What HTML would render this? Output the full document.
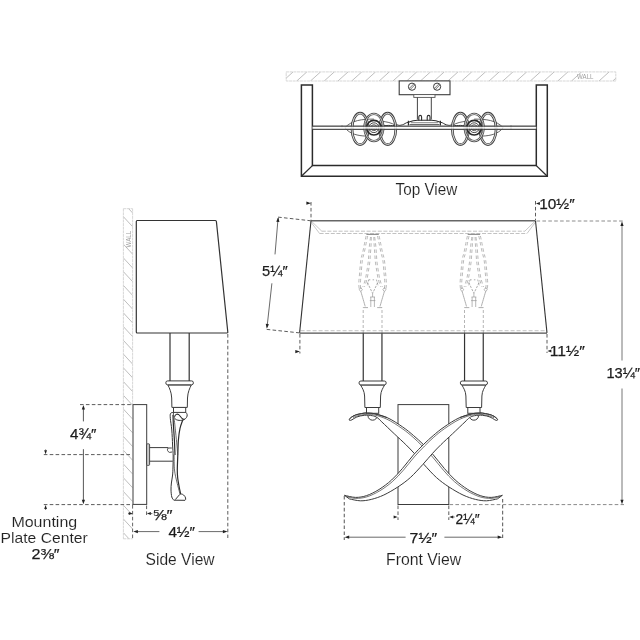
<!DOCTYPE html>
<html lang="en">
<head>
<meta charset="utf-8">
<title>Sconce dimension drawing</title>
<style>
html,body{margin:0;padding:0;background:#fff;}
body{width:640px;height:640px;overflow:hidden;}
svg{display:block;}
svg text{font-family:"Liberation Sans",sans-serif;}
svg text.lbl{stroke:#fff;stroke-width:0.12px;}
svg text.dim{stroke:#1c1c1c;stroke-width:0.25px;}
</style>
</head>
<body>
<svg width="640" height="640" viewBox="0 0 640 640" style="will-change:transform">
<rect x="0" y="0" width="640" height="640" fill="#ffffff"/>
<g id="topview">
<clipPath id="cw1"><rect x="286.2" y="71.9" width="329.59999999999997" height="9.099999999999994"/></clipPath>
<g clip-path="url(#cw1)">
<line x1="269.26" y1="81.00" x2="279.36" y2="71.90" stroke="#adadad" stroke-width="0.8"/>
<line x1="283.00" y1="81.00" x2="293.10" y2="71.90" stroke="#adadad" stroke-width="0.8"/>
<line x1="296.74" y1="81.00" x2="306.84" y2="71.90" stroke="#adadad" stroke-width="0.8"/>
<line x1="310.48" y1="81.00" x2="320.58" y2="71.90" stroke="#adadad" stroke-width="0.8"/>
<line x1="324.22" y1="81.00" x2="334.32" y2="71.90" stroke="#adadad" stroke-width="0.8"/>
<line x1="337.96" y1="81.00" x2="348.06" y2="71.90" stroke="#adadad" stroke-width="0.8"/>
<line x1="351.70" y1="81.00" x2="361.80" y2="71.90" stroke="#adadad" stroke-width="0.8"/>
<line x1="365.44" y1="81.00" x2="375.54" y2="71.90" stroke="#adadad" stroke-width="0.8"/>
<line x1="379.18" y1="81.00" x2="389.28" y2="71.90" stroke="#adadad" stroke-width="0.8"/>
<line x1="392.92" y1="81.00" x2="403.02" y2="71.90" stroke="#adadad" stroke-width="0.8"/>
<line x1="406.66" y1="81.00" x2="416.76" y2="71.90" stroke="#adadad" stroke-width="0.8"/>
<line x1="420.40" y1="81.00" x2="430.50" y2="71.90" stroke="#adadad" stroke-width="0.8"/>
<line x1="434.14" y1="81.00" x2="444.24" y2="71.90" stroke="#adadad" stroke-width="0.8"/>
<line x1="447.88" y1="81.00" x2="457.98" y2="71.90" stroke="#adadad" stroke-width="0.8"/>
<line x1="461.62" y1="81.00" x2="471.72" y2="71.90" stroke="#adadad" stroke-width="0.8"/>
<line x1="475.36" y1="81.00" x2="485.46" y2="71.90" stroke="#adadad" stroke-width="0.8"/>
<line x1="489.10" y1="81.00" x2="499.20" y2="71.90" stroke="#adadad" stroke-width="0.8"/>
<line x1="502.84" y1="81.00" x2="512.94" y2="71.90" stroke="#adadad" stroke-width="0.8"/>
<line x1="516.58" y1="81.00" x2="526.68" y2="71.90" stroke="#adadad" stroke-width="0.8"/>
<line x1="530.32" y1="81.00" x2="540.42" y2="71.90" stroke="#adadad" stroke-width="0.8"/>
<line x1="544.06" y1="81.00" x2="554.16" y2="71.90" stroke="#adadad" stroke-width="0.8"/>
<line x1="557.80" y1="81.00" x2="567.90" y2="71.90" stroke="#adadad" stroke-width="0.8"/>
<line x1="571.54" y1="81.00" x2="581.64" y2="71.90" stroke="#adadad" stroke-width="0.8"/>
<line x1="599.02" y1="81.00" x2="609.12" y2="71.90" stroke="#adadad" stroke-width="0.8"/>
<line x1="612.76" y1="81.00" x2="622.86" y2="71.90" stroke="#adadad" stroke-width="0.8"/>
</g>
<rect x="286.20" y="71.90" width="329.60" height="9.10" rx="0" stroke="#cdcdcd" stroke-width="0.8" fill="none" stroke-dasharray="3 0.6"/>
<text x="577.00" y="78.60" font-size="6.6" fill="#a0a0a0" text-anchor="start" textLength="16.5" lengthAdjust="spacingAndGlyphs">WALL</text>
<path d="M301.4,85 L301.4,176.3 L547.3,176.3 L547.3,85 L536.3,85 L536.3,165.6 L312.4,165.6 L312.4,85 Z" stroke="#2b2b2b" stroke-width="1.5" fill="none" stroke-linejoin="miter"/>
<line x1="301.40" y1="176.30" x2="312.40" y2="165.60" stroke="#2b2b2b" stroke-width="1.3"/>
<line x1="547.30" y1="176.30" x2="536.30" y2="165.60" stroke="#2b2b2b" stroke-width="1.3"/>
<rect x="399.20" y="80.90" width="50.80" height="13.80" rx="0" stroke="#3c3c3c" stroke-width="1.1" fill="#fff"/>
<circle cx="412" cy="86.7" r="3.6" stroke="#3c3c3c" stroke-width="1" fill="#fff"/>
<line x1="409.10" y1="88.60" x2="413.90" y2="83.80" stroke="#3c3c3c" stroke-width="0.7"/>
<line x1="410.10" y1="89.60" x2="414.90" y2="84.80" stroke="#3c3c3c" stroke-width="0.7"/>
<circle cx="437.1" cy="86.7" r="3.6" stroke="#3c3c3c" stroke-width="1" fill="#fff"/>
<line x1="434.20" y1="88.60" x2="439.00" y2="83.80" stroke="#3c3c3c" stroke-width="0.7"/>
<line x1="435.20" y1="89.60" x2="440.00" y2="84.80" stroke="#3c3c3c" stroke-width="0.7"/>
<rect x="413.80" y="94.60" width="21.20" height="2.80" rx="0" stroke="#555" stroke-width="0.9" fill="#fff"/>
<line x1="417.40" y1="97.40" x2="417.40" y2="119.50" stroke="#444" stroke-width="1"/>
<line x1="431.30" y1="97.40" x2="431.30" y2="119.50" stroke="#444" stroke-width="1"/>
<path d="M418.8,120.4 L418.8,116.9 A1.4,1.5 0 0 1 421.59999999999997,116.9 L421.59999999999997,120.4" stroke="#2e2e2e" stroke-width="1.1" fill="none"/>
<path d="M427.20000000000005,120.4 L427.20000000000005,116.9 A1.4,1.5 0 0 1 430.0,116.9 L430.0,120.4" stroke="#2e2e2e" stroke-width="1.1" fill="none"/>
<path d="M408.4,122.2 C411,121.2 414,120.3 417.4,120.3 L431.4,120.3 C435,120.3 438,121.2 440.4,122.2" stroke="#2e2e2e" stroke-width="1.1" fill="none"/>
<path d="M411,122.7 L438,122.7" stroke="#555" stroke-width="0.7" fill="none"/>
<path d="M409.5,124.5 L439.5,124.5" stroke="#444" stroke-width="0.8" fill="none"/>
<path d="M408.4,120.8 L408.4,125.6 M440.4,120.8 L440.4,125.6" stroke="#2e2e2e" stroke-width="1.2" fill="none"/>
<path d="M408.4,122.2 C405.6,122.6 404.4,124.4 402.4,124.8 C400.6,125.2 399.6,125.6 398.4,125.2 C397.2,124.6 396,124.6 394.4,125.4 C392,126 389,125 386,125.6 L381,125.4" stroke="#333" stroke-width="1" fill="none"/>
<path d="M440.4,122.2 C443.2,122.6 444.4,124.4 446.4,124.8 C448.2,125.2 449.2,125.6 450.4,125.2 C451.6,124.6 452.8,124.6 454.4,125.4 C456.8,126 459.8,125 462.8,125.6 L467.8,125.4" stroke="#333" stroke-width="1" fill="none"/>
<line x1="312.40" y1="126.20" x2="536.30" y2="126.20" stroke="#444" stroke-width="0.9"/>
<line x1="312.40" y1="129.30" x2="536.30" y2="129.30" stroke="#444" stroke-width="0.9"/>
<line x1="342.00" y1="125.50" x2="342.00" y2="127.50" stroke="#444" stroke-width="0.8"/>
<line x1="511.00" y1="125.50" x2="511.00" y2="129.30" stroke="#444" stroke-width="0.8"/>
<path d="M344.9,127.7 C351.9,120.2 361.9,119.10000000000001 373.9,119.10000000000001 M344.9,127.7 C349.9,134.2 357.9,135.7 365.9,136.1" stroke="#555" stroke-width="0.9" fill="none"/>
<path d="M395.9,125.5 C391.9,122.7 385.9,121.7 381.9,121.3" stroke="#555" stroke-width="0.9" fill="none"/>
<ellipse cx="360.1" cy="128.9" rx="8.1" ry="15.7" stroke="#444" stroke-width="2.7" fill="none"/>
<ellipse cx="360.1" cy="128.9" rx="8.1" ry="15.7" stroke="#fff" stroke-width="0.8" fill="none"/>
<ellipse cx="387.7" cy="128.9" rx="8.1" ry="15.7" stroke="#444" stroke-width="2.7" fill="none"/>
<ellipse cx="387.7" cy="128.9" rx="8.1" ry="15.7" stroke="#fff" stroke-width="0.8" fill="none"/>
<ellipse cx="373.9" cy="127.5" rx="9.4" ry="13.6" stroke="#4c4c4c" stroke-width="2.4" fill="none"/>
<ellipse cx="373.9" cy="127.5" rx="9.4" ry="13.6" stroke="#fff" stroke-width="0.7" fill="none"/>
<circle cx="373.9" cy="127.7" r="7.3" stroke="#2a2a2a" stroke-width="1.6" fill="none"/>
<circle cx="373.9" cy="127.7" r="4.9" stroke="#4a4a4a" stroke-width="1" fill="none"/>
<circle cx="373.9" cy="127.7" r="3" stroke="#555" stroke-width="0.9" fill="none"/>
<circle cx="373.9" cy="127.7" r="1.4" stroke="#666" stroke-width="0.8" fill="none"/>
<path d="M503.2,127.7 C496.2,120.2 486.2,119.10000000000001 474.2,119.10000000000001 M503.2,127.7 C498.2,134.2 490.2,135.7 482.2,136.1" stroke="#555" stroke-width="0.9" fill="none"/>
<path d="M452.2,125.5 C456.2,122.7 462.2,121.7 466.2,121.3" stroke="#555" stroke-width="0.9" fill="none"/>
<ellipse cx="460.4" cy="128.9" rx="8.1" ry="15.7" stroke="#444" stroke-width="2.7" fill="none"/>
<ellipse cx="460.4" cy="128.9" rx="8.1" ry="15.7" stroke="#fff" stroke-width="0.8" fill="none"/>
<ellipse cx="488.0" cy="128.9" rx="8.1" ry="15.7" stroke="#444" stroke-width="2.7" fill="none"/>
<ellipse cx="488.0" cy="128.9" rx="8.1" ry="15.7" stroke="#fff" stroke-width="0.8" fill="none"/>
<ellipse cx="474.2" cy="127.5" rx="9.4" ry="13.6" stroke="#4c4c4c" stroke-width="2.4" fill="none"/>
<ellipse cx="474.2" cy="127.5" rx="9.4" ry="13.6" stroke="#fff" stroke-width="0.7" fill="none"/>
<circle cx="474.2" cy="127.7" r="7.3" stroke="#2a2a2a" stroke-width="1.6" fill="none"/>
<circle cx="474.2" cy="127.7" r="4.9" stroke="#4a4a4a" stroke-width="1" fill="none"/>
<circle cx="474.2" cy="127.7" r="3" stroke="#555" stroke-width="0.9" fill="none"/>
<circle cx="474.2" cy="127.7" r="1.4" stroke="#666" stroke-width="0.8" fill="none"/>
<rect x="312.4" y="126.65" width="223.9" height="2.2" fill="#fff" opacity="0.85"/>
<line x1="312.40" y1="126.20" x2="536.30" y2="126.20" stroke="#444" stroke-width="0.9"/>
<line x1="312.40" y1="129.30" x2="536.30" y2="129.30" stroke="#444" stroke-width="0.9"/>
<text x="395.60" y="194.70" font-size="16.2" fill="#222" text-anchor="start" textLength="61.7" lengthAdjust="spacingAndGlyphs" class="lbl">Top View</text>
</g>
<g id="frontview">
<rect x="398.00" y="404.60" width="50.80" height="99.90" rx="0" stroke="#3c3c3c" stroke-width="1" fill="#fff"/>
<path d="M368.0,414 L368.0,415.8 A4.6,4.4 0 0 0 377.20000000000005,415.8 L377.20000000000005,414" stroke="#3c3c3c" stroke-width="1" fill="#fff"/>
<path d="M469.29999999999995,414 L469.29999999999995,415.8 A4.6,4.4 0 0 0 478.5,415.8 L478.5,414" stroke="#3c3c3c" stroke-width="1" fill="#fff"/>
<path d="M349.20,419.30 C349.80,418.80 351.18,417.17 352.80,416.30 C354.42,415.43 355.93,414.65 358.90,414.10 C361.87,413.55 365.90,412.42 370.60,413.00 C375.30,413.58 381.75,415.27 387.10,417.60 C392.45,419.93 398.28,424.00 402.70,427.00 C407.12,430.00 410.22,432.73 413.60,435.60 C416.98,438.47 419.70,440.97 423.00,444.20 C426.30,447.43 429.85,450.97 433.40,455.00 C436.95,459.03 440.67,464.23 444.30,468.40 C447.93,472.57 451.28,476.48 455.20,480.00 C459.12,483.52 463.63,486.90 467.80,489.50 C471.97,492.10 476.30,494.28 480.20,495.60 C484.10,496.92 487.50,497.45 491.20,497.40 C494.90,497.35 500.53,495.65 502.40,495.30 L497.40,498.90 C495.58,499.22 490.15,500.72 486.50,500.80 C482.85,500.88 479.42,500.37 475.50,499.40 C471.58,498.43 467.42,497.07 463.00,495.00 C458.58,492.93 453.42,489.90 449.00,487.00 C444.58,484.10 440.67,481.35 436.50,477.60 C432.33,473.85 427.70,468.53 424.00,464.50 C420.30,460.47 417.33,456.72 414.30,453.40 C411.27,450.08 409.13,447.87 405.80,444.60 C402.47,441.33 398.30,437.58 394.30,433.80 C390.30,430.02 384.65,424.60 381.80,421.90 C378.95,419.20 378.78,418.63 377.20,417.60 C375.62,416.57 374.45,416.08 372.30,415.70 C370.15,415.32 366.88,415.08 364.30,415.30 C361.72,415.52 358.85,416.25 356.80,417.00 C354.75,417.75 353.20,419.23 352.00,419.80 C350.80,420.37 350.07,420.48 349.60,420.40 C349.13,420.32 349.27,419.48 349.20,419.30 Z" stroke="#3c3c3c" stroke-width="1" fill="#fff" stroke-linejoin="round"/>
<path d="M352.80,417.60 C353.88,417.23 356.20,415.93 359.30,415.40 C362.40,414.87 366.80,413.77 371.40,414.40 C376.00,415.03 381.77,416.83 386.90,419.20 C392.03,421.57 397.85,425.60 402.20,428.60 C406.55,431.60 409.67,434.30 413.00,437.20 C416.33,440.10 418.93,442.70 422.20,446.00 C425.47,449.30 429.07,452.97 432.60,457.00 C436.13,461.03 439.77,466.10 443.40,470.20 C447.03,474.30 450.47,478.17 454.40,481.60 C458.33,485.03 462.77,488.27 467.00,490.80 C471.23,493.33 475.80,495.53 479.80,496.80 C483.80,498.07 487.57,498.43 491.00,498.40 C494.43,498.37 498.83,496.90 500.40,496.60" stroke="#3c3c3c" stroke-width="0.7" fill="none"/>
<path d="M497.60,419.30 C497.00,418.80 495.62,417.17 494.00,416.30 C492.38,415.43 490.87,414.65 487.90,414.10 C484.93,413.55 480.90,412.42 476.20,413.00 C471.50,413.58 465.05,415.27 459.70,417.60 C454.35,419.93 448.52,424.00 444.10,427.00 C439.68,430.00 436.58,432.73 433.20,435.60 C429.82,438.47 427.10,440.97 423.80,444.20 C420.50,447.43 416.95,450.97 413.40,455.00 C409.85,459.03 406.13,464.23 402.50,468.40 C398.87,472.57 395.52,476.48 391.60,480.00 C387.68,483.52 383.17,486.90 379.00,489.50 C374.83,492.10 370.50,494.28 366.60,495.60 C362.70,496.92 359.30,497.45 355.60,497.40 C351.90,497.35 346.27,495.65 344.40,495.30 L349.40,498.90 C351.22,499.22 356.65,500.72 360.30,500.80 C363.95,500.88 367.38,500.37 371.30,499.40 C375.22,498.43 379.38,497.07 383.80,495.00 C388.22,492.93 393.38,489.90 397.80,487.00 C402.22,484.10 406.13,481.35 410.30,477.60 C414.47,473.85 419.10,468.53 422.80,464.50 C426.50,460.47 429.47,456.72 432.50,453.40 C435.53,450.08 437.67,447.87 441.00,444.60 C444.33,441.33 448.50,437.58 452.50,433.80 C456.50,430.02 462.15,424.60 465.00,421.90 C467.85,419.20 468.02,418.63 469.60,417.60 C471.18,416.57 472.35,416.08 474.50,415.70 C476.65,415.32 479.92,415.08 482.50,415.30 C485.08,415.52 487.95,416.25 490.00,417.00 C492.05,417.75 493.60,419.23 494.80,419.80 C496.00,420.37 496.73,420.48 497.20,420.40 C497.67,420.32 497.53,419.48 497.60,419.30 Z" stroke="#3c3c3c" stroke-width="1" fill="#fff" stroke-linejoin="round"/>
<path d="M494.00,417.60 C492.92,417.23 490.60,415.93 487.50,415.40 C484.40,414.87 480.00,413.77 475.40,414.40 C470.80,415.03 465.03,416.83 459.90,419.20 C454.77,421.57 448.95,425.60 444.60,428.60 C440.25,431.60 437.13,434.30 433.80,437.20 C430.47,440.10 427.87,442.70 424.60,446.00 C421.33,449.30 417.73,452.97 414.20,457.00 C410.67,461.03 407.03,466.10 403.40,470.20 C399.77,474.30 396.33,478.17 392.40,481.60 C388.47,485.03 384.03,488.27 379.80,490.80 C375.57,493.33 371.00,495.53 367.00,496.80 C363.00,498.07 359.23,498.43 355.80,498.40 C352.37,498.37 347.97,496.90 346.40,496.60" stroke="#3c3c3c" stroke-width="0.7" fill="none"/>
<rect x="366.50" y="407.50" width="12.20" height="5.80" rx="0" stroke="#3c3c3c" stroke-width="1" fill="#fff"/>
<path d="M360.6,385 C362.20000000000005,388 364.40000000000003,391 364.6,396 L364.90000000000003,407.5 L380.3,407.5 L380.6,396 C380.8,391 383.0,388 384.6,385 Z" stroke="#3c3c3c" stroke-width="1" fill="#fff"/>
<rect x="359.00" y="381.00" width="27.20" height="3.90" rx="1.9" stroke="#3c3c3c" stroke-width="1" fill="#fff"/>
<line x1="363.25" y1="333.00" x2="363.25" y2="381.00" stroke="#333" stroke-width="1.2"/>
<line x1="381.95" y1="333.00" x2="381.95" y2="381.00" stroke="#333" stroke-width="1.2"/>
<rect x="467.80" y="407.50" width="12.20" height="5.80" rx="0" stroke="#3c3c3c" stroke-width="1" fill="#fff"/>
<path d="M461.9,385 C463.5,388 465.7,391 465.9,396 L466.2,407.5 L481.59999999999997,407.5 L481.9,396 C482.09999999999997,391 484.29999999999995,388 485.9,385 Z" stroke="#3c3c3c" stroke-width="1" fill="#fff"/>
<rect x="460.30" y="381.00" width="27.20" height="3.90" rx="1.9" stroke="#3c3c3c" stroke-width="1" fill="#fff"/>
<line x1="464.55" y1="333.00" x2="464.55" y2="381.00" stroke="#333" stroke-width="1.2"/>
<line x1="483.25" y1="333.00" x2="483.25" y2="381.00" stroke="#333" stroke-width="1.2"/>
<path d="M497.60,419.30 C497.00,418.80 495.62,417.17 494.00,416.30 C492.38,415.43 490.87,414.65 487.90,414.10 C484.93,413.55 480.90,412.42 476.20,413.00 C471.50,413.58 462.45,416.83 459.70,417.60" stroke="#3c3c3c" stroke-width="1" fill="none"/>
<path d="M349.20,419.30 C349.80,418.80 351.18,417.17 352.80,416.30 C354.42,415.43 355.93,414.65 358.90,414.10 C361.87,413.55 365.90,412.42 370.60,413.00 C375.30,413.58 384.35,416.83 387.10,417.60" stroke="#3c3c3c" stroke-width="1" fill="none"/>
<path d="M367.70,236.00 C367.48,237.00 366.95,239.33 366.40,242.00 C365.85,244.67 365.07,249.00 364.40,252.00 C363.73,255.00 362.92,256.67 362.40,260.00 C361.88,263.33 361.63,268.17 361.30,272.00 C360.97,275.83 360.48,280.17 360.40,283.00 C360.32,285.83 360.73,288.00 360.80,289.00" stroke="#9c9c9c" stroke-width="0.7" fill="none" stroke-dasharray="3.6 2.6"/>
<path d="M377.50,236.00 C377.72,237.00 378.25,239.33 378.80,242.00 C379.35,244.67 380.13,249.00 380.80,252.00 C381.47,255.00 382.28,256.67 382.80,260.00 C383.32,263.33 383.57,268.17 383.90,272.00 C384.23,275.83 384.72,280.17 384.80,283.00 C384.88,285.83 384.47,288.00 384.40,289.00" stroke="#9c9c9c" stroke-width="0.7" fill="none" stroke-dasharray="3.6 2.6"/>
<path d="M366.10,236.00 C365.88,237.00 365.35,239.33 364.80,242.00 C364.25,244.67 363.47,249.00 362.80,252.00 C362.13,255.00 361.32,256.67 360.80,260.00 C360.28,263.33 360.03,268.17 359.70,272.00 C359.37,275.83 358.88,280.17 358.80,283.00 C358.72,285.83 359.13,288.00 359.20,289.00" stroke="#9c9c9c" stroke-width="0.7" fill="none" stroke-dasharray="3.6 2.6"/>
<path d="M379.10,236.00 C379.32,237.00 379.85,239.33 380.40,242.00 C380.95,244.67 381.73,249.00 382.40,252.00 C383.07,255.00 383.88,256.67 384.40,260.00 C384.92,263.33 385.17,268.17 385.50,272.00 C385.83,275.83 386.32,280.17 386.40,283.00 C386.48,285.83 386.07,288.00 386.00,289.00" stroke="#9c9c9c" stroke-width="0.7" fill="none" stroke-dasharray="3.6 2.6"/>
<path d="M371.48,237.00 C371.40,238.50 371.18,243.17 371.00,246.00 C370.82,248.83 370.60,251.33 370.40,254.00 C370.20,256.67 370.15,259.00 369.80,262.00 C369.45,265.00 368.80,269.00 368.30,272.00 C367.80,275.00 367.45,277.50 366.80,280.00 C366.15,282.50 364.80,285.83 364.40,287.00" stroke="#9c9c9c" stroke-width="0.7" fill="none" stroke-dasharray="3.6 2.6"/>
<path d="M373.72,237.00 C373.80,238.50 374.02,243.17 374.20,246.00 C374.38,248.83 374.60,251.33 374.80,254.00 C375.00,256.67 375.05,259.00 375.40,262.00 C375.75,265.00 376.40,269.00 376.90,272.00 C377.40,275.00 377.75,277.50 378.40,280.00 C379.05,282.50 380.40,285.83 380.80,287.00" stroke="#9c9c9c" stroke-width="0.7" fill="none" stroke-dasharray="3.6 2.6"/>
<path d="M370.52,237.00 C370.33,238.50 369.69,243.17 369.40,246.00 C369.11,248.83 369.00,251.33 368.80,254.00 C368.60,256.67 368.55,259.00 368.20,262.00 C367.85,265.00 367.20,269.00 366.70,272.00 C366.20,275.00 365.85,277.50 365.20,280.00 C364.55,282.50 363.20,285.83 362.80,287.00" stroke="#9c9c9c" stroke-width="0.7" fill="none" stroke-dasharray="3.6 2.6"/>
<path d="M374.68,237.00 C374.87,238.50 375.51,243.17 375.80,246.00 C376.09,248.83 376.20,251.33 376.40,254.00 C376.60,256.67 376.65,259.00 377.00,262.00 C377.35,265.00 378.00,269.00 378.50,272.00 C379.00,275.00 379.35,277.50 380.00,280.00 C380.65,282.50 382.00,285.83 382.40,287.00" stroke="#9c9c9c" stroke-width="0.7" fill="none" stroke-dasharray="3.6 2.6"/>
<path d="M360.8,287.6 L362.3,289.6 L360.8,291.8 L359.3,289.6 Z" stroke="#8a8a8a" stroke-width="0.6" fill="none"/>
<path d="M384.40000000000003,287.6 L385.90000000000003,289.6 L384.40000000000003,291.8 L382.90000000000003,289.6 Z" stroke="#8a8a8a" stroke-width="0.6" fill="none"/>
<path d="M361.00,292.00 C361.37,293.25 362.50,297.10 363.20,299.50 C363.90,301.90 364.87,305.25 365.20,306.40" stroke="#9a9a9a" stroke-width="0.8" fill="none"/>
<path d="M384.20,292.00 C383.83,293.25 382.70,297.10 382.00,299.50 C381.30,301.90 380.33,305.25 380.00,306.40" stroke="#9a9a9a" stroke-width="0.8" fill="none"/>
<path d="M368.8,279.6 L367.0,286 M376.40000000000003,279.6 L378.20000000000005,286" stroke="#8c8c8c" stroke-width="0.7" fill="none" stroke-dasharray="2 1.2"/>
<path d="M367.40000000000003,282.5 L372.6,293.4 L377.8,282.5" stroke="#8c8c8c" stroke-width="0.7" fill="none" stroke-dasharray="2.4 1.2"/>
<path d="M368.8,279.8 L376.40000000000003,279.8" stroke="#8c8c8c" stroke-width="0.7" fill="none" stroke-dasharray="1.5 2.3"/>
<path d="M372.6,293.4 L372.6,297 M370.20000000000005,297 L375.0,297 M369.8,300.6 L375.40000000000003,300.6 M370.8,297 L370.8,307 M374.40000000000003,297 L374.40000000000003,307" stroke="#999" stroke-width="0.7" fill="none"/>
<path d="M363.20000000000005,333 L363.20000000000005,307.6" stroke="#a2a2a2" stroke-width="0.8" fill="none" stroke-dasharray="3 2"/>
<path d="M382.0,333 L382.0,307.6" stroke="#a2a2a2" stroke-width="0.8" fill="none" stroke-dasharray="3 2"/>
<path d="M363.20000000000005,307.6 L368.0,307.6 M377.20000000000005,307.6 L382.0,307.6" stroke="#999" stroke-width="0.8" fill="none"/>
<line x1="366.40" y1="234.30" x2="378.80" y2="234.30" stroke="#777" stroke-width="1"/>
<path d="M469.00,236.00 C468.78,237.00 468.25,239.33 467.70,242.00 C467.15,244.67 466.37,249.00 465.70,252.00 C465.03,255.00 464.22,256.67 463.70,260.00 C463.18,263.33 462.93,268.17 462.60,272.00 C462.27,275.83 461.78,280.17 461.70,283.00 C461.62,285.83 462.03,288.00 462.10,289.00" stroke="#9c9c9c" stroke-width="0.7" fill="none" stroke-dasharray="3.6 2.6"/>
<path d="M478.80,236.00 C479.02,237.00 479.55,239.33 480.10,242.00 C480.65,244.67 481.43,249.00 482.10,252.00 C482.77,255.00 483.58,256.67 484.10,260.00 C484.62,263.33 484.87,268.17 485.20,272.00 C485.53,275.83 486.02,280.17 486.10,283.00 C486.18,285.83 485.77,288.00 485.70,289.00" stroke="#9c9c9c" stroke-width="0.7" fill="none" stroke-dasharray="3.6 2.6"/>
<path d="M467.40,236.00 C467.18,237.00 466.65,239.33 466.10,242.00 C465.55,244.67 464.77,249.00 464.10,252.00 C463.43,255.00 462.62,256.67 462.10,260.00 C461.58,263.33 461.33,268.17 461.00,272.00 C460.67,275.83 460.18,280.17 460.10,283.00 C460.02,285.83 460.43,288.00 460.50,289.00" stroke="#9c9c9c" stroke-width="0.7" fill="none" stroke-dasharray="3.6 2.6"/>
<path d="M480.40,236.00 C480.62,237.00 481.15,239.33 481.70,242.00 C482.25,244.67 483.03,249.00 483.70,252.00 C484.37,255.00 485.18,256.67 485.70,260.00 C486.22,263.33 486.47,268.17 486.80,272.00 C487.13,275.83 487.62,280.17 487.70,283.00 C487.78,285.83 487.37,288.00 487.30,289.00" stroke="#9c9c9c" stroke-width="0.7" fill="none" stroke-dasharray="3.6 2.6"/>
<path d="M472.78,237.00 C472.70,238.50 472.48,243.17 472.30,246.00 C472.12,248.83 471.90,251.33 471.70,254.00 C471.50,256.67 471.45,259.00 471.10,262.00 C470.75,265.00 470.10,269.00 469.60,272.00 C469.10,275.00 468.75,277.50 468.10,280.00 C467.45,282.50 466.10,285.83 465.70,287.00" stroke="#9c9c9c" stroke-width="0.7" fill="none" stroke-dasharray="3.6 2.6"/>
<path d="M475.02,237.00 C475.10,238.50 475.32,243.17 475.50,246.00 C475.68,248.83 475.90,251.33 476.10,254.00 C476.30,256.67 476.35,259.00 476.70,262.00 C477.05,265.00 477.70,269.00 478.20,272.00 C478.70,275.00 479.05,277.50 479.70,280.00 C480.35,282.50 481.70,285.83 482.10,287.00" stroke="#9c9c9c" stroke-width="0.7" fill="none" stroke-dasharray="3.6 2.6"/>
<path d="M471.82,237.00 C471.63,238.50 470.99,243.17 470.70,246.00 C470.41,248.83 470.30,251.33 470.10,254.00 C469.90,256.67 469.85,259.00 469.50,262.00 C469.15,265.00 468.50,269.00 468.00,272.00 C467.50,275.00 467.15,277.50 466.50,280.00 C465.85,282.50 464.50,285.83 464.10,287.00" stroke="#9c9c9c" stroke-width="0.7" fill="none" stroke-dasharray="3.6 2.6"/>
<path d="M475.98,237.00 C476.17,238.50 476.81,243.17 477.10,246.00 C477.39,248.83 477.50,251.33 477.70,254.00 C477.90,256.67 477.95,259.00 478.30,262.00 C478.65,265.00 479.30,269.00 479.80,272.00 C480.30,275.00 480.65,277.50 481.30,280.00 C481.95,282.50 483.30,285.83 483.70,287.00" stroke="#9c9c9c" stroke-width="0.7" fill="none" stroke-dasharray="3.6 2.6"/>
<path d="M462.09999999999997,287.6 L463.59999999999997,289.6 L462.09999999999997,291.8 L460.59999999999997,289.6 Z" stroke="#8a8a8a" stroke-width="0.6" fill="none"/>
<path d="M485.7,287.6 L487.2,289.6 L485.7,291.8 L484.2,289.6 Z" stroke="#8a8a8a" stroke-width="0.6" fill="none"/>
<path d="M462.30,292.00 C462.67,293.25 463.80,297.10 464.50,299.50 C465.20,301.90 466.17,305.25 466.50,306.40" stroke="#9a9a9a" stroke-width="0.8" fill="none"/>
<path d="M485.50,292.00 C485.13,293.25 484.00,297.10 483.30,299.50 C482.60,301.90 481.63,305.25 481.30,306.40" stroke="#9a9a9a" stroke-width="0.8" fill="none"/>
<path d="M470.09999999999997,279.6 L468.29999999999995,286 M477.7,279.6 L479.5,286" stroke="#8c8c8c" stroke-width="0.7" fill="none" stroke-dasharray="2 1.2"/>
<path d="M468.7,282.5 L473.9,293.4 L479.09999999999997,282.5" stroke="#8c8c8c" stroke-width="0.7" fill="none" stroke-dasharray="2.4 1.2"/>
<path d="M470.09999999999997,279.8 L477.7,279.8" stroke="#8c8c8c" stroke-width="0.7" fill="none" stroke-dasharray="1.5 2.3"/>
<path d="M473.9,293.4 L473.9,297 M471.5,297 L476.29999999999995,297 M471.09999999999997,300.6 L476.7,300.6 M472.09999999999997,297 L472.09999999999997,307 M475.7,297 L475.7,307" stroke="#999" stroke-width="0.7" fill="none"/>
<path d="M464.5,333 L464.5,307.6" stroke="#a2a2a2" stroke-width="0.8" fill="none" stroke-dasharray="3 2"/>
<path d="M483.29999999999995,333 L483.29999999999995,307.6" stroke="#a2a2a2" stroke-width="0.8" fill="none" stroke-dasharray="3 2"/>
<path d="M464.5,307.6 L469.29999999999995,307.6 M478.5,307.6 L483.29999999999995,307.6" stroke="#999" stroke-width="0.8" fill="none"/>
<line x1="467.70" y1="234.30" x2="480.10" y2="234.30" stroke="#777" stroke-width="1"/>
<path d="M311.6,221.4 L321.8,231.2" stroke="#b0b0b0" stroke-width="0.7" fill="none"/>
<path d="M311.2,222.4 L319.6,233.5" stroke="#b0b0b0" stroke-width="0.7" fill="none"/>
<path d="M534.9,221.4 L524.8,231.2" stroke="#b0b0b0" stroke-width="0.7" fill="none"/>
<path d="M535.3,222.4 L527,233.5" stroke="#b0b0b0" stroke-width="0.7" fill="none"/>
<line x1="321.80" y1="231.20" x2="524.80" y2="231.20" stroke="#a8a8a8" stroke-width="0.7" stroke-dasharray="4 1.6"/>
<line x1="319.60" y1="233.50" x2="527.00" y2="233.50" stroke="#a8a8a8" stroke-width="0.7" stroke-dasharray="4 1.6"/>
<line x1="300.60" y1="330.70" x2="546.00" y2="330.70" stroke="#a8a8a8" stroke-width="0.7" stroke-dasharray="4 2"/>
<line x1="311.00" y1="220.80" x2="535.50" y2="220.80" stroke="#666" stroke-width="1.5"/>
<line x1="299.60" y1="333.10" x2="547.00" y2="333.10" stroke="#505050" stroke-width="1.4"/>
<line x1="311.00" y1="220.80" x2="299.60" y2="332.90" stroke="#333" stroke-width="1.1"/>
<line x1="535.50" y1="220.80" x2="547.00" y2="332.90" stroke="#333" stroke-width="1.1"/>
<line x1="311.00" y1="220.80" x2="277.00" y2="217.00" stroke="#5c5c5c" stroke-width="1" stroke-dasharray="3.6 2.3"/>
<line x1="299.60" y1="332.90" x2="265.00" y2="329.20" stroke="#5c5c5c" stroke-width="1" stroke-dasharray="3.6 2.3"/>
<line x1="278.10" y1="218.00" x2="275.00" y2="254.40" stroke="#444" stroke-width="0.8"/>
<line x1="271.90" y1="283.30" x2="267.00" y2="327.40" stroke="#444" stroke-width="0.8"/>
<polygon points="278.25,217.20 279.44,221.92 276.26,221.64" fill="#222"/>
<polygon points="266.80,328.60 265.73,323.85 268.91,324.21" fill="#222"/>
<text x="262.00" y="276.30" font-size="15.5" fill="#1c1c1c" text-anchor="start" textLength="25.6" lengthAdjust="spacingAndGlyphs" class="dim">5¼″</text>
<line x1="311.00" y1="202.00" x2="311.00" y2="220.00" stroke="#5c5c5c" stroke-width="1" stroke-dasharray="3.6 2.3"/>
<polygon points="311.00,203.20 306.40,204.80 306.40,201.60" fill="#222"/>
<line x1="299.90" y1="334.00" x2="299.90" y2="353.50" stroke="#5c5c5c" stroke-width="1" stroke-dasharray="3.6 2.3"/>
<polygon points="299.90,351.60 295.30,353.20 295.30,350.00" fill="#222"/>
<line x1="535.50" y1="201.00" x2="535.50" y2="220.00" stroke="#5c5c5c" stroke-width="1" stroke-dasharray="3.6 2.3"/>
<polygon points="535.90,203.50 539.90,202.00 539.90,205.00" fill="#222"/>
<text x="539.20" y="208.80" font-size="15.5" fill="#1c1c1c" text-anchor="start" textLength="35.4" lengthAdjust="spacingAndGlyphs" class="dim">10½″</text>
<line x1="547.00" y1="334.00" x2="547.00" y2="353.00" stroke="#5c5c5c" stroke-width="1" stroke-dasharray="3.6 2.3"/>
<polygon points="547.40,351.00 551.40,349.50 551.40,352.50" fill="#222"/>
<text x="549.80" y="356.10" font-size="15.5" fill="#1c1c1c" text-anchor="start" textLength="35.0" lengthAdjust="spacingAndGlyphs" class="dim">11½″</text>
<line x1="536.50" y1="221.00" x2="624.00" y2="221.00" stroke="#8c8c8c" stroke-width="1" stroke-dasharray="3.6 2.3"/>
<line x1="449.50" y1="504.60" x2="624.00" y2="504.60" stroke="#8a8a8a" stroke-width="1" stroke-dasharray="3.6 2.3"/>
<line x1="622.00" y1="224.00" x2="622.00" y2="360.50" stroke="#666" stroke-width="0.9"/>
<line x1="622.00" y1="388.50" x2="622.00" y2="502.00" stroke="#666" stroke-width="0.9"/>
<polygon points="622.00,221.30 623.60,225.90 620.40,225.90" fill="#222"/>
<polygon points="622.00,504.30 620.40,499.70 623.60,499.70" fill="#222"/>
<text x="606.40" y="378.20" font-size="15.5" fill="#1c1c1c" text-anchor="start" textLength="33.6" lengthAdjust="spacingAndGlyphs" class="dim">13¼″</text>
<line x1="344.30" y1="496.00" x2="344.30" y2="540.00" stroke="#707070" stroke-width="1.2" stroke-dasharray="3.6 2.3"/>
<line x1="502.60" y1="499.00" x2="502.60" y2="540.00" stroke="#707070" stroke-width="1.2" stroke-dasharray="3.6 2.3"/>
<line x1="347.00" y1="537.20" x2="405.60" y2="537.20" stroke="#444" stroke-width="0.8"/>
<line x1="444.40" y1="537.20" x2="500.00" y2="537.20" stroke="#444" stroke-width="0.8"/>
<polygon points="344.60,537.20 349.20,535.60 349.20,538.80" fill="#222"/>
<polygon points="502.30,537.20 497.70,538.80 497.70,535.60" fill="#222"/>
<text x="409.60" y="543.10" font-size="15.5" fill="#1c1c1c" text-anchor="start" textLength="27.6" lengthAdjust="spacingAndGlyphs" class="dim">7½″</text>
<line x1="398.00" y1="505.50" x2="398.00" y2="520.00" stroke="#5c5c5c" stroke-width="1" stroke-dasharray="3.6 2.3"/>
<line x1="448.80" y1="505.50" x2="448.80" y2="520.00" stroke="#5c5c5c" stroke-width="1" stroke-dasharray="3.6 2.3"/>
<polygon points="397.60,517.00 393.60,518.50 393.60,515.50" fill="#222"/>
<polygon points="449.20,517.00 453.20,515.50 453.20,518.50" fill="#222"/>
<line x1="452.50" y1="517.00" x2="454.60" y2="517.00" stroke="#444" stroke-width="0.8"/>
<text x="455.60" y="523.50" font-size="15.5" fill="#1c1c1c" text-anchor="start" textLength="24.0" lengthAdjust="spacingAndGlyphs" class="dim">2¼″</text>
<text x="386.00" y="565.10" font-size="16.2" fill="#222" text-anchor="start" textLength="75.3" lengthAdjust="spacingAndGlyphs" class="lbl">Front View</text>
</g>
<g id="sideview">
<clipPath id="cw2"><rect x="123.4" y="208.7" width="9.199999999999989" height="330.09999999999997"/></clipPath>
<g clip-path="url(#cw2)">
<line x1="123.40" y1="189.22" x2="132.80" y2="199.42" stroke="#adadad" stroke-width="0.8"/>
<line x1="123.40" y1="202.96" x2="132.80" y2="213.16" stroke="#adadad" stroke-width="0.8"/>
<line x1="123.40" y1="216.70" x2="132.80" y2="226.90" stroke="#adadad" stroke-width="0.8"/>
<line x1="123.40" y1="244.18" x2="132.80" y2="254.38" stroke="#adadad" stroke-width="0.8"/>
<line x1="123.40" y1="257.92" x2="132.80" y2="268.12" stroke="#adadad" stroke-width="0.8"/>
<line x1="123.40" y1="271.66" x2="132.80" y2="281.86" stroke="#adadad" stroke-width="0.8"/>
<line x1="123.40" y1="285.40" x2="132.80" y2="295.60" stroke="#adadad" stroke-width="0.8"/>
<line x1="123.40" y1="299.14" x2="132.80" y2="309.34" stroke="#adadad" stroke-width="0.8"/>
<line x1="123.40" y1="312.88" x2="132.80" y2="323.08" stroke="#adadad" stroke-width="0.8"/>
<line x1="123.40" y1="326.62" x2="132.80" y2="336.82" stroke="#adadad" stroke-width="0.8"/>
<line x1="123.40" y1="340.36" x2="132.80" y2="350.56" stroke="#adadad" stroke-width="0.8"/>
<line x1="123.40" y1="354.10" x2="132.80" y2="364.30" stroke="#adadad" stroke-width="0.8"/>
<line x1="123.40" y1="367.84" x2="132.80" y2="378.04" stroke="#adadad" stroke-width="0.8"/>
<line x1="123.40" y1="381.58" x2="132.80" y2="391.78" stroke="#adadad" stroke-width="0.8"/>
<line x1="123.40" y1="395.32" x2="132.80" y2="405.52" stroke="#adadad" stroke-width="0.8"/>
<line x1="123.40" y1="409.06" x2="132.80" y2="419.26" stroke="#adadad" stroke-width="0.8"/>
<line x1="123.40" y1="422.80" x2="132.80" y2="433.00" stroke="#adadad" stroke-width="0.8"/>
<line x1="123.40" y1="436.54" x2="132.80" y2="446.74" stroke="#adadad" stroke-width="0.8"/>
<line x1="123.40" y1="450.28" x2="132.80" y2="460.48" stroke="#adadad" stroke-width="0.8"/>
<line x1="123.40" y1="464.02" x2="132.80" y2="474.22" stroke="#adadad" stroke-width="0.8"/>
<line x1="123.40" y1="477.76" x2="132.80" y2="487.96" stroke="#adadad" stroke-width="0.8"/>
<line x1="123.40" y1="491.50" x2="132.80" y2="501.70" stroke="#adadad" stroke-width="0.8"/>
<line x1="123.40" y1="505.24" x2="132.80" y2="515.44" stroke="#adadad" stroke-width="0.8"/>
<line x1="123.40" y1="518.98" x2="132.80" y2="529.18" stroke="#adadad" stroke-width="0.8"/>
<line x1="123.40" y1="532.72" x2="132.80" y2="542.92" stroke="#adadad" stroke-width="0.8"/>
</g>
<line x1="123.40" y1="208.70" x2="123.40" y2="538.80" stroke="#cdcdcd" stroke-width="0.8" stroke-dasharray="3 0.6"/>
<line x1="123.40" y1="208.70" x2="132.60" y2="208.70" stroke="#cdcdcd" stroke-width="0.8" stroke-dasharray="3 0.6"/>
<line x1="123.40" y1="538.80" x2="132.60" y2="538.80" stroke="#cdcdcd" stroke-width="0.8" stroke-dasharray="3 0.6"/>
<line x1="132.60" y1="208.70" x2="132.60" y2="404.00" stroke="#cdcdcd" stroke-width="0.8" stroke-dasharray="3 0.6"/>
<line x1="132.60" y1="505.00" x2="132.60" y2="538.80" stroke="#666" stroke-width="1" stroke-dasharray="3.6 2.3"/>
<text x="0" y="0" font-size="6.6" fill="#a0a0a0" textLength="16.5" lengthAdjust="spacingAndGlyphs" transform="translate(131,247.4) rotate(-90)">WALL</text>
<path d="M137.2,220.5 L215.4,220.5 Q216.3,220.5 216.4,221.5 L227.8,332 Q227.9,333 227,333 L137.2,333 Q136.3,333 136.3,332 L136.3,221.5 Q136.3,220.5 137.2,220.5 Z" stroke="#333" stroke-width="1.2" fill="#fff"/>
<rect x="133.00" y="404.60" width="13.70" height="99.80" rx="0" stroke="#3c3c3c" stroke-width="1" fill="#fff"/>
<rect x="146.60" y="443.80" width="3.00" height="21.60" rx="1" stroke="#3c3c3c" stroke-width="0.9" fill="#c8c8c8"/>
<line x1="149.60" y1="447.60" x2="168.20" y2="447.60" stroke="#3c3c3c" stroke-width="1"/>
<line x1="149.60" y1="461.20" x2="172.80" y2="461.20" stroke="#3c3c3c" stroke-width="1"/>
<path d="M173.40,412.40 C172.93,412.57 171.12,412.42 170.60,413.40 C170.08,414.38 170.10,415.53 170.30,418.30 C170.50,421.07 171.42,425.55 171.80,430.00 C172.18,434.45 172.37,440.67 172.60,445.00 C172.83,449.33 173.13,452.33 173.20,456.00 C173.27,459.67 173.10,463.83 173.00,467.00 C172.90,470.17 172.87,472.33 172.60,475.00 C172.33,477.67 171.67,480.50 171.40,483.00 C171.13,485.50 170.93,487.67 171.00,490.00 C171.07,492.33 171.33,495.30 171.80,497.00 C172.27,498.70 173.47,499.67 173.80,500.20 L185,500.3 L185.5,498 L183.9,495.2 L180.6,494 L180.60,494.00 C180.37,492.83 179.68,489.67 179.20,487.00 C178.72,484.33 178.02,480.83 177.70,478.00 C177.38,475.17 177.28,473.83 177.30,470.00 C177.32,466.17 177.62,460.00 177.80,455.00 C177.98,450.00 178.03,444.43 178.40,440.00 C178.77,435.57 179.25,431.80 180.00,428.40 C180.75,425.00 182.42,421.07 182.90,419.60 Z" stroke="none" stroke-width="0" fill="#fff"/>
<path d="M173.40,412.40 C172.93,412.57 171.12,412.42 170.60,413.40 C170.08,414.38 170.10,415.53 170.30,418.30 C170.50,421.07 171.42,425.55 171.80,430.00 C172.18,434.45 172.37,440.67 172.60,445.00 C172.83,449.33 173.13,452.33 173.20,456.00 C173.27,459.67 173.10,463.83 173.00,467.00 C172.90,470.17 172.87,472.33 172.60,475.00 C172.33,477.67 171.67,480.50 171.40,483.00 C171.13,485.50 170.93,487.67 171.00,490.00 C171.07,492.33 171.33,495.30 171.80,497.00 C172.27,498.70 173.47,499.67 173.80,500.20" stroke="#333" stroke-width="1" fill="none"/>
<path d="M182.90,419.60 C182.42,421.07 180.75,425.00 180.00,428.40 C179.25,431.80 178.77,435.57 178.40,440.00 C178.03,444.43 177.98,450.00 177.80,455.00 C177.62,460.00 177.32,466.17 177.30,470.00 C177.28,473.83 177.38,475.17 177.70,478.00 C178.02,480.83 178.72,484.33 179.20,487.00 C179.68,489.67 180.37,492.83 180.60,494.00" stroke="#2a2a2a" stroke-width="1.2" fill="none"/>
<path d="M173.00,415.00 C173.07,416.67 173.17,420.83 173.40,425.00 C173.63,429.17 174.13,435.00 174.40,440.00 C174.67,445.00 174.90,452.50 175.00,455.00" stroke="#2a2a2a" stroke-width="1.2" fill="none"/>
<path d="M174.10,418.00 C174.35,420.33 175.12,427.33 175.60,432.00 C176.08,436.67 176.65,442.17 177.00,446.00 C177.35,449.83 177.58,453.50 177.70,455.00" stroke="#444" stroke-width="0.8" fill="none"/>
<path d="M174.10,455.00 C174.17,457.50 174.03,465.50 174.50,470.00 C174.97,474.50 175.98,478.00 176.90,482.00 C177.82,486.00 179.48,492.00 180.00,494.00" stroke="#444" stroke-width="0.8" fill="none"/>
<path d="M173.8,500.2 L185,500.3 C186.4,499.6 185.6,496.6 183.6,495 C182.2,493.8 180.6,493.8 179.6,494.6 L175.3,499.6" stroke="#333" stroke-width="1" fill="#fff"/>
<path d="M171.8,448 L168.2,448 C166.8,449.4 167.4,451.6 169.5,452.4 L172,452" stroke="#333" stroke-width="0.9" fill="none"/>
<path d="M173.9,412.4 C172.6,414.4 173.6,418.4 176.6,419.8 C179.6,421 184.4,420.6 186.4,417.6 C187.8,415.6 187.2,413.6 185.8,412.4" stroke="#333" stroke-width="1" fill="#fff"/>
<path d="M174.5,416.7 C175.4,414.4 177,413.6 178.4,414.4 C180,415.4 181,417.8 182.4,418.8 C183.2,419.4 184,419.4 184.6,419" stroke="#2a2a2a" stroke-width="1.1" fill="none"/>
<rect x="173.50" y="407.40" width="12.20" height="5.00" rx="0" stroke="#3c3c3c" stroke-width="1" fill="#fff"/>
<path d="M167.9,385 C169.4,388 171.4,392 171.7,398 L171.9,407.4 L187.29999999999998,407.4 L187.5,398 C187.79999999999998,392 189.79999999999998,388 191.29999999999998,385 Z" stroke="#3c3c3c" stroke-width="1" fill="#fff"/>
<rect x="165.80" y="380.90" width="27.60" height="3.90" rx="1.9" stroke="#3c3c3c" stroke-width="1" fill="#fff"/>
<line x1="170.00" y1="333.00" x2="170.00" y2="380.90" stroke="#333" stroke-width="1.2"/>
<line x1="189.20" y1="333.00" x2="189.20" y2="380.90" stroke="#333" stroke-width="1.2"/>
<line x1="80.00" y1="404.60" x2="133.00" y2="404.60" stroke="#5c5c5c" stroke-width="1" stroke-dasharray="3.6 2.3"/>
<line x1="43.80" y1="454.60" x2="130.00" y2="454.60" stroke="#5c5c5c" stroke-width="1" stroke-dasharray="3.6 2.3"/>
<line x1="43.80" y1="504.60" x2="133.00" y2="504.60" stroke="#5c5c5c" stroke-width="1" stroke-dasharray="3.6 2.3"/>
<line x1="83.40" y1="407.00" x2="83.40" y2="421.40" stroke="#444" stroke-width="0.9"/>
<line x1="83.40" y1="449.20" x2="83.40" y2="502.00" stroke="#444" stroke-width="0.9"/>
<polygon points="83.40,404.90 85.00,409.50 81.80,409.50" fill="#222"/>
<polygon points="83.40,504.30 81.80,499.70 85.00,499.70" fill="#222"/>
<text x="70.00" y="439.20" font-size="15.5" fill="#1c1c1c" text-anchor="start" textLength="26.4" lengthAdjust="spacingAndGlyphs" class="dim">4¾″</text>
<polygon points="45.60,454.30 44.20,450.30 47.00,450.30" fill="#222"/>
<polygon points="45.60,504.90 47.00,508.90 44.20,508.90" fill="#222"/>
<line x1="45.60" y1="449.40" x2="45.60" y2="451.00" stroke="#444" stroke-width="0.7"/>
<line x1="45.60" y1="508.60" x2="45.60" y2="510.00" stroke="#444" stroke-width="0.7"/>
<line x1="146.60" y1="505.50" x2="146.60" y2="516.00" stroke="#5c5c5c" stroke-width="1" stroke-dasharray="3.6 2.3"/>
<polygon points="132.80,513.60 128.80,515.10 128.80,512.10" fill="#222"/>
<polygon points="146.90,513.60 150.90,512.10 150.90,515.10" fill="#222"/>
<line x1="128.00" y1="513.60" x2="129.20" y2="513.60" stroke="#444" stroke-width="0.8"/>
<line x1="150.60" y1="513.60" x2="152.40" y2="513.60" stroke="#444" stroke-width="0.8"/>
<text x="152.40" y="519.60" font-size="15.5" fill="#1c1c1c" text-anchor="start" textLength="20.0" lengthAdjust="spacingAndGlyphs" class="dim">⅝″</text>
<line x1="227.80" y1="334.00" x2="227.80" y2="538.00" stroke="#5c5c5c" stroke-width="1" stroke-dasharray="3.6 2.3"/>
<line x1="136.00" y1="531.60" x2="159.40" y2="531.60" stroke="#444" stroke-width="0.8"/>
<line x1="198.60" y1="531.60" x2="225.00" y2="531.60" stroke="#444" stroke-width="0.8"/>
<polygon points="133.30,531.60 137.90,530.00 137.90,533.20" fill="#222"/>
<polygon points="227.50,531.60 222.90,533.20 222.90,530.00" fill="#222"/>
<text x="168.40" y="536.60" font-size="15.5" fill="#1c1c1c" text-anchor="start" textLength="26.6" lengthAdjust="spacingAndGlyphs" class="dim">4½″</text>
<text x="145.60" y="565.10" font-size="16.2" fill="#222" text-anchor="start" textLength="69.0" lengthAdjust="spacingAndGlyphs" class="lbl">Side View</text>
<text x="11.40" y="526.90" font-size="15.5" fill="#222" text-anchor="start" textLength="65.8" lengthAdjust="spacingAndGlyphs" class="lbl">Mounting</text>
<text x="0.60" y="542.60" font-size="15.5" fill="#222" text-anchor="start" textLength="87.2" lengthAdjust="spacingAndGlyphs" class="lbl">Plate Center</text>
<text x="31.40" y="558.90" font-size="15.5" fill="#1c1c1c" text-anchor="start" textLength="28.2" lengthAdjust="spacingAndGlyphs" class="dim">2⅜″</text>
</g>
</svg>
</body>
</html>
